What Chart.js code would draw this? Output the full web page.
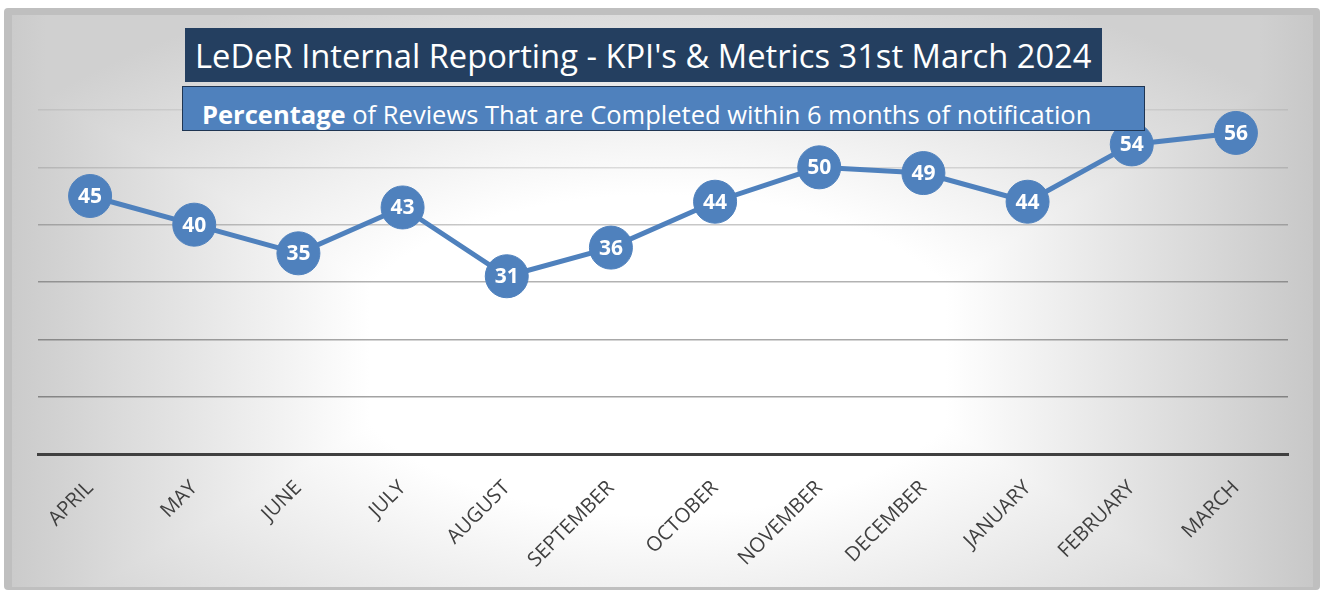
<!DOCTYPE html>
<html>
<head>
<meta charset="utf-8">
<script src="https://cdn.jsdelivr.net/npm/chart.js@4/dist/chart.umd.min.js"></script>
<style>
  html, body { margin:0; padding:0; background:#fff; width:1322px; height:590px; overflow:hidden; font-family:"Open Sans", sans-serif; }
  #frame { position:absolute; left:4px; top:8px; width:1316px; height:582px; background:#bfbfbf; border-radius:4px; }
  #inner { position:absolute; left:12px; top:15px; width:1301px; height:572px;
    background:
      radial-gradient(ellipse 800px 400px at 646px 340px, #ffffff 40%, #d0d0d0 100%),
      linear-gradient(to right, #cbcbcb 0px, #ffffff 358px, #ffffff 934px, #c8c8c8 1301px);
    background-blend-mode: darken; }
  #c { position:absolute; left:0; top:0; }
  .box { position:absolute; box-sizing:border-box; color:#fff; white-space:nowrap; display:flex; align-items:center; }
  #title { left:185px; top:28px; width:917px; height:54px; background:#243f60; padding-left:10px; font-size:28px; }
  #subtitle { left:182px; top:86px; width:963px; height:45px; background:#4f81bd; border:1px solid #1f3552; padding-left:19px; font-size:22px; padding-top:10px; }
</style>
</head>
<body>
<div id="frame"></div>
<div id="inner"></div>
<canvas id="c" width="1322" height="590"></canvas>
<div class="box" id="title"><span id="tt">LeDeR Internal Reporting - KPI's &amp; Metrics 31st March 2024</span></div>
<div class="box" id="subtitle"><span id="st"><b>Percentage</b> of Reviews That are Completed within 6 months of notification</span></div>
<script>
const categories = ['APRIL','MAY','JUNE','JULY','AUGUST','SEPTEMBER','OCTOBER','NOVEMBER','DECEMBER','JANUARY','FEBRUARY','MARCH'];
const values = [45, 40, 35, 43, 31, 36, 44, 50, 49, 44, 54, 56];
const yTickValues = [0, 10, 20, 30, 40, 50, 60];

// fit header text widths
function fitSpan(id, target) {
  const el = document.getElementById(id);
  const fs = parseFloat(getComputedStyle(el.parentNode).fontSize);
  const w = el.getBoundingClientRect().width;
  el.parentNode.style.fontSize = (fs * target / w) + 'px';
}
fitSpan('tt', 897);
fitSpan('st', 890);

function fitFont(text, weight, family, target) {
  const cv = document.createElement('canvas').getContext('2d');
  cv.font = weight + ' 100px ' + family;
  return 100 * target / cv.measureText(text).width;
}
const tickFontSize = fitFont('SEPTEMBER', 'normal', '"Open Sans"', 112);

const gridAlpha = {0:0, 10:0.36, 20:0.34, 30:0.30, 40:0.22, 50:0.12, 60:0.07};

const valueLabels = {
  id: 'valueLabels',
  afterDatasetsDraw(chart) {
    const ctx = chart.ctx;
    const meta = chart.getDatasetMeta(0);
    ctx.save();
    ctx.fillStyle = '#ffffff';
    ctx.font = 'bold 21px "Open Sans"';
    ctx.textAlign = 'center';
    ctx.textBaseline = 'middle';
    meta.data.forEach((pt, i) => {
      ctx.fillText(String(chart.data.datasets[0].data[i]), pt.x, pt.y + 1);
    });
    ctx.restore();
  }
};

new Chart(document.getElementById('c'), {
  type: 'line',
  data: {
    labels: categories,
    datasets: [{
      data: values,
      borderColor: '#4f81bd',
      borderWidth: 5,
      backgroundColor: '#4f81bd',
      pointRadius: 21.5,
      pointBackgroundColor: '#4f81bd',
      pointBorderColor: '#4f81bd',
      pointBorderWidth: 1,
      tension: 0,
      clip: false
    }]
  },
  options: {
    responsive: false,
    devicePixelRatio: 1,
    animation: false,
    events: [],
    layout: { padding: { left: 38, right: 34, top: 110, bottom: 6 } },
    plugins: { legend: { display: false }, tooltip: { enabled: false }, title: { display: false } },
    scales: {
      x: {
        offset: true,
        grid: { display: false, drawTicks: false },
        border: { display: true, color: '#404040', width: 3 },
        ticks: {
          minRotation: 45, maxRotation: 45, autoSkip: false,
          color: '#404040', padding: 22,
          font: { family: '"Open Sans"', size: tickFontSize }
        },
        afterFit(scale) { scale.height = 130; }
      },
      y: {
        min: 0, max: 60,
        afterBuildTicks(scale) { scale.ticks = yTickValues.map(v => ({ value: v })); },
        grid: {
          drawTicks: false,
          lineWidth: 1.5,
          color: (ctx) => 'rgba(0,0,0,' + (gridAlpha[ctx.tick.value] ?? 0.3) + ')'
        },
        border: { display: false },
        ticks: { display: false },
        afterFit(scale) { scale.width = 0; }
      }
    }
  },
  plugins: [valueLabels]
});
</script>
</body>
</html>
